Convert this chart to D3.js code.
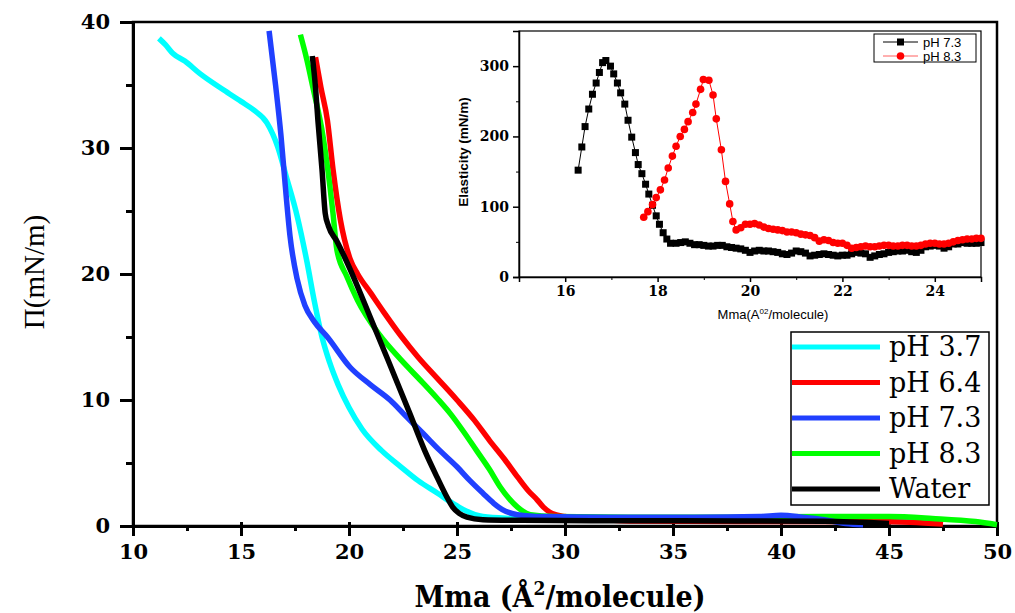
<!DOCTYPE html>
<html>
<head>
<meta charset="utf-8">
<script src="https://cdn.jsdelivr.net/npm/d3@7"></script>
<style>
  body { margin: 0; background: #fff; }
  svg { display: block; }
</style>
</head>
<body>
<svg id="chart" width="1015" height="613"></svg>
<script>
// main isotherms: [Mma, surface pressure]
const seriesNames = ["pH 3.7", "pH 6.4", "pH 7.3", "pH 8.3", "Water"];
const seriesColors = ["#00ffff", "#ff0000", "#2040ff", "#00ff00", "#000000"];

const ph37 = [[11.2,38.7],[11.5,38.2],[11.85,37.5],[12.4,36.9],[13.1,35.9],[14.2,34.6],[15.0,33.7],[15.6,33.0],[16.2,32.0],[16.7,30.1],[17.1,27.7],[17.6,24.6],[18.05,21.0],[18.4,17.8],[18.75,15.0],[19.1,13.0],[19.5,11.2],[20.0,9.4],[20.6,7.7],[21.5,6.0],[22.4,4.7],[23.2,3.6],[24.1,2.6],[24.8,1.8],[25.3,1.3],[26.2,0.75],[27.5,0.6],[30,0.5],[35,0.45],[40,0.45],[44,0.4],[47,0.3]];
const ph64 = [[18.45,37.2],[18.7,34.8],[19.0,32.2],[19.26,28.3],[19.6,24.3],[20.05,21.2],[20.4,20.0],[21.0,18.5],[21.6,17.0],[22.4,15.1],[23.2,13.4],[24.1,11.7],[25.0,10.0],[25.8,8.4],[26.5,6.8],[27.2,5.3],[27.8,3.9],[28.3,2.8],[28.7,2.1],[29.0,1.5],[29.4,1.0],[30,0.75],[31,0.6],[33,0.4],[38,0.35],[44,0.35],[46,0.3],[47.5,0.15]];
const ph73 = [[16.3,39.3],[16.6,35.0],[16.85,31.0],[17.05,27.0],[17.27,23.0],[17.6,19.6],[17.96,17.5],[18.4,16.2],[19.0,15.0],[20.05,12.6],[21.0,11.2],[21.9,10.0],[22.7,8.6],[23.4,7.4],[24.2,6.0],[25.0,4.7],[25.6,3.6],[26.2,2.6],[26.7,1.8],[27.1,1.3],[27.8,0.9],[29,0.75],[32,0.7],[36,0.7],[39,0.75],[40,0.85],[41,0.7],[42,0.5],[43,0.2],[43.8,0.1]];
const ph83 = [[17.75,39.0],[18.05,37.0],[18.33,34.8],[18.8,30.9],[19.12,26.9],[19.26,24.8],[19.44,21.9],[19.9,19.8],[20.4,17.9],[21.4,15.2],[22.4,13.2],[23.4,11.4],[24.1,10.1],[24.7,8.9],[25.3,7.5],[25.9,6.0],[26.5,4.5],[27.0,3.1],[27.4,2.2],[27.8,1.5],[28.4,0.9],[29.5,0.75],[33,0.7],[38,0.7],[42,0.75],[45,0.75],[47,0.6],[49,0.35],[50,0.1]];
const water = [[18.3,37.3],[18.45,34.8],[18.56,32.2],[18.75,28.3],[18.9,24.8],[19.05,23.8],[19.44,22.6],[20.2,19.8],[21.0,16.5],[21.8,13.2],[22.8,9.0],[23.5,6.0],[24.07,3.9],[24.5,2.4],[24.8,1.5],[25.1,1.0],[25.46,0.7],[26.2,0.5],[28,0.45],[32,0.42],[38,0.4],[42,0.38],[45,0.2]];

const xTicks = [10,15,20,25,30,35,40,45,50];
const xMinor = [12.5,17.5,22.5,27.5,32.5,37.5,42.5,47.5];
const yTicks = [0,10,20,30,40];
const yMinor = [5,15,25,35];

// inset: elasticity vs Mma
const insetNames = ["pH 7.3", "pH 8.3"];
const elastX73 = [16.28,16.36,16.43,16.51,16.59,16.67,16.74,16.81,16.88,16.98,17.05,17.13,17.2,17.29,17.36,17.44,17.52,17.58,17.66,17.74,17.81,17.89,17.97,18.04,18.12,18.2,18.28,
  18.4,18.5,18.6,18.7,18.8,18.9,19.0,19.1,19.2,19.3,19.4,19.5,19.6,19.7,19.8,19.9,20.0,20.1,20.2,20.3,20.4,20.5,20.6,20.7,20.8,20.9,21.0,21.1,21.2,21.3,21.4,21.5,21.6,21.7,21.8,21.9,22.0,22.1,22.2,22.3,22.4,22.5,22.6,22.7,22.8,22.9,23.0,23.1,23.2,23.3,23.4,23.5,23.6,23.7,23.8,23.9,24.0,24.1,24.2,24.3,24.4,24.5,24.6,24.7,24.8,24.9,25.0];
const elastY73 = [152,185,214,239,260,276,291,305,308,300,289,276,262,246,223,199,177,160,147,132,118,102,87,75,63,54,48,
  48,49,50,48,46,46,45,44,44,45,45,43,42,41,40,38,35,37,38,37,37,36,35,33,32,34,37,36,34,30,31,32,33,32,31,30,31,31,33,35,34,33,28,30,32,33,35,36,37,37,38,36,35,38,43,44,45,44,41,43,47,47,49,48,48,48,49];
const elastX83 = [17.7,17.79,17.89,17.97,18.06,18.15,18.23,18.32,18.4,18.49,18.58,18.66,18.76,18.83,18.93,18.99,19.11,19.2,19.27,19.38,19.47,19.56,19.63,19.7,19.8,19.9,
  20.0,20.1,20.2,20.3,20.4,20.5,20.6,20.7,20.8,20.9,21.0,21.1,21.2,21.3,21.4,21.5,21.6,21.7,21.8,21.9,22.0,22.1,22.2,22.3,22.4,22.5,22.6,22.7,22.8,22.9,23.0,23.1,23.2,23.3,23.4,23.5,23.6,23.7,23.8,23.9,24.0,24.1,24.2,24.3,24.4,24.5,24.6,24.7,24.8,24.9,25.0];
const elastY83 = [85,93,103,113,124,138,155,172,186,200,210,221,234,246,267,281,280,259,225,181,136,104,79,67,70,75,
  75,76,74,71,69,68,67,66,64,64,63,61,60,59,56,51,53,52,49,48,48,45,41,42,43,44,43,43,44,45,45,44,44,45,45,44,44,45,47,48,48,47,47,48,50,52,53,54,54,55,55];
const insetXTicks = [16,18,20,22,24];
const insetXMinor = [17,19,21,23,25];
const insetYTicks = [0,100,200,300];
const insetYMinor = [50,150,250];

const svg = d3.select('#chart');

// ---------- main plot ----------
const x = d3.scaleLinear().domain([10, 50]).range([133, 997]);
const y = d3.scaleLinear().domain([0, 40]).range([526, 22]);

svg.append('rect')
  .attr('x', x(10)).attr('y', y(40))
  .attr('width', x(50) - x(10)).attr('height', y(0) - y(40))
  .attr('fill', 'none').attr('stroke', '#000').attr('stroke-width', 2.5);

const serifBold = '"DejaVu Serif", serif';

const xAxis = svg.append('g')
  .attr('transform', `translate(0,${y(0)})`)
  .call(d3.axisBottom(x).tickValues(xTicks).tickSize(10).tickPadding(8).tickFormat(d3.format('d')));
xAxis.select('.domain').attr('stroke-width', 3);
xAxis.selectAll('.tick line').attr('stroke-width', 3).attr('y1', -4);
xAxis.selectAll('text').style('font-family', serifBold).style('font-weight', 'bold').style('font-size', '21px');

svg.append('g')
  .attr('transform', `translate(0,${y(0)})`)
  .call(d3.axisBottom(x).tickValues(xMinor).tickSize(5).tickFormat(''))
  .call(g => g.select('.domain').remove())
  .selectAll('.tick line').attr('stroke-width', 3);

const yAxis = svg.append('g')
  .attr('transform', `translate(${x(10)},0)`)
  .call(d3.axisLeft(y).tickValues(yTicks).tickSize(13).tickPadding(10).tickFormat(d3.format('d')));
yAxis.select('.domain').attr('stroke-width', 3);
yAxis.selectAll('.tick line').attr('stroke-width', 3);
yAxis.selectAll('text').style('font-family', serifBold).style('font-weight', 'bold').style('font-size', '21px');

svg.append('g')
  .attr('transform', `translate(${x(10)},0)`)
  .call(d3.axisLeft(y).tickValues(yMinor).tickSize(7).tickFormat(''))
  .call(g => g.select('.domain').remove())
  .selectAll('.tick line').attr('stroke-width', 3);

// axis titles
const xt = svg.append('text')
  .attr('x', 560).attr('y', 607)
  .attr('text-anchor', 'middle')
  .style('font-family', '"DejaVu Serif Condensed", "DejaVu Serif", serif')
  .style('font-weight', 'bold').style('font-size', '30px');
xt.append('tspan').text('Mma (Å');
xt.append('tspan').attr('dy', -12).style('font-size', '19px').text('2');
xt.append('tspan').attr('dy', 12).text('/molecule)');

svg.append('text')
  .attr('transform', 'translate(44,272) rotate(-90)')
  .attr('text-anchor', 'middle')
  .style('font-family', '"Liberation Serif", serif')
  .style('font-size', '29px')
  .text('Π(mN/m)');

const line = d3.line().x(d => x(d[0])).y(d => y(d[1])).curve(d3.curveMonotoneX);
const drawOrder = [[ph37, 0], [ph64, 1], [ph83, 3], [ph73, 2], [water, 4]];
drawOrder.forEach(([data, i]) => {
  svg.append('path')
    .datum(data)
    .attr('d', line)
    .attr('fill', 'none')
    .attr('stroke', seriesColors[i])
    .attr('stroke-width', 5.5)
    .attr('stroke-linejoin', 'round');
});

// legend
const legend = svg.append('g');
legend.append('rect')
  .attr('x', 791).attr('y', 332).attr('width', 198).attr('height', 173)
  .attr('fill', '#fff').attr('stroke', '#000').attr('stroke-width', 1.5);
seriesNames.forEach((name, i) => {
  const ly = 347 + i * 35.5;
  legend.append('line')
    .attr('x1', 792).attr('x2', 880).attr('y1', ly).attr('y2', ly)
    .attr('stroke', seriesColors[i]).attr('stroke-width', 5);
  legend.append('text')
    .attr('x', 889).attr('y', ly + 9)
    .style('font-family', '"DejaVu Serif", serif')
    .style('font-size', '27px')
    .text(name);
});

// ---------- inset ----------
const xi = d3.scaleLinear().domain([15, 25]).range([519, 981]);
const yi = d3.scaleLinear().domain([0, 350]).range([277, 31]);

svg.append('rect')
  .attr('x', xi(15)).attr('y', yi(350))
  .attr('width', xi(25) - xi(15)).attr('height', yi(0) - yi(350))
  .attr('fill', 'none').attr('stroke', '#000').attr('stroke-width', 1.2);

const ixAxis = svg.append('g')
  .attr('transform', `translate(0,${yi(0)})`)
  .call(d3.axisBottom(xi).tickValues(insetXTicks).tickSize(5).tickPadding(4).tickFormat(d3.format('d')));
ixAxis.select('.domain').attr('stroke-width', 1.5);
ixAxis.selectAll('.tick line').attr('stroke-width', 1.5);
ixAxis.selectAll('text').style('font-family', serifBold).style('font-weight', 'bold').style('font-size', '14px').attr('fill', '#000');
svg.append('g')
  .attr('transform', `translate(0,${yi(0)})`)
  .call(d3.axisBottom(xi).tickValues(insetXMinor).tickSize(3).tickFormat(''))
  .call(g => g.select('.domain').remove());

const iyAxis = svg.append('g')
  .attr('transform', `translate(${xi(15)},0)`)
  .call(d3.axisLeft(yi).tickValues(insetYTicks).tickSize(6).tickPadding(4).tickFormat(d3.format('d')));
iyAxis.select('.domain').attr('stroke-width', 1.5);
iyAxis.selectAll('.tick line').attr('stroke-width', 1.5);
iyAxis.selectAll('text').style('font-family', serifBold).style('font-weight', 'bold').style('font-size', '14px');
svg.append('g')
  .attr('transform', `translate(${xi(15)},0)`)
  .call(d3.axisLeft(yi).tickValues(insetYMinor).tickSize(3).tickFormat(''))
  .call(g => g.select('.domain').remove());

const ixt = svg.append('text')
  .attr('x', 773).attr('y', 319)
  .attr('text-anchor', 'middle')
  .style('font-family', '"Liberation Sans", Arial, sans-serif')
  .style('font-size', '13px');
ixt.append('tspan').text('Mma(A');
ixt.append('tspan').attr('dy', -5).style('font-size', '8px').text('02');
ixt.append('tspan').attr('dy', 5).text('/molecule)');

svg.append('text')
  .attr('transform', 'translate(468,152) rotate(-90)')
  .attr('text-anchor', 'middle')
  .style('font-family', '"Liberation Sans", Arial, sans-serif')
  .style('font-weight', 'bold')
  .style('font-size', '13.5px')
  .text('Elasticity (mN/m)');

const data73 = elastX73.map((v, i) => [v, elastY73[i]]);
const data83 = elastX83.map((v, i) => [v, elastY83[i]]);
const iline = d3.line().x(d => xi(d[0])).y(d => yi(d[1]));

svg.append('path').datum(data73).attr('d', iline)
  .attr('fill', 'none').attr('stroke', '#000').attr('stroke-width', 1);
svg.append('g').selectAll('rect').data(data73).join('rect')
  .attr('x', d => xi(d[0]) - 3.5).attr('y', d => yi(d[1]) - 3.5)
  .attr('width', 7).attr('height', 7).attr('fill', '#000');

svg.append('path').datum(data83).attr('d', iline)
  .attr('fill', 'none').attr('stroke', '#ff0000').attr('stroke-width', 1);
svg.append('g').selectAll('circle').data(data83).join('circle')
  .attr('cx', d => xi(d[0])).attr('cy', d => yi(d[1]))
  .attr('r', 3.8).attr('fill', '#ff0000');

// inset legend
const ileg = svg.append('g');
ileg.append('rect')
  .attr('x', 874).attr('y', 34).attr('width', 102).attr('height', 28)
  .attr('fill', '#fff').attr('stroke', '#000').attr('stroke-width', 1);
insetNames.forEach((name, i) => {
  const ly = 42 + i * 14;
  const col = i === 0 ? '#000' : '#ff0000';
  ileg.append('line')
    .attr('x1', 883).attr('x2', 918).attr('y1', ly).attr('y2', ly)
    .attr('stroke', i === 0 ? '#000' : '#ff6060').attr('stroke-width', 1);
  if (i === 0) {
    ileg.append('rect').attr('x', 897).attr('y', ly - 3.5).attr('width', 7).attr('height', 7).attr('fill', col);
  } else {
    ileg.append('circle').attr('cx', 900.5).attr('cy', ly).attr('r', 3.8).attr('fill', col);
  }
  ileg.append('text')
    .attr('x', 923).attr('y', ly + 5)
    .style('font-family', '"Liberation Sans", Arial, sans-serif')
    .style('font-size', '13px')
    .text(name);
});
</script>
</body>
</html>
